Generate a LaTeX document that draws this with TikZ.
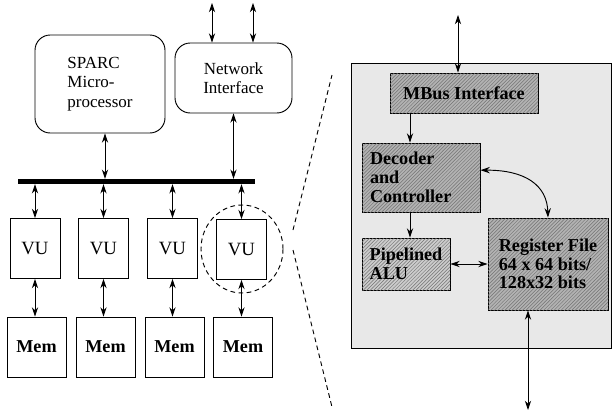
\documentclass[tikz,border=0pt]{standalone}
\usepackage{fontspec}
\setmainfont{Liberation Serif}
\usetikzlibrary{arrows.meta,shapes.geometric,patterns}

\begin{document}
\begin{tikzpicture}[x=0.03cm,y=-0.03cm,>={Stealth[length=2.8mm,width=1.9mm]},
  host/.style={draw,thick,rounded corners=13pt,font=\fontsize{14.5}{16.5}\selectfont},
  vunit/.style={draw,thick,minimum width=1.5cm,minimum height=1.8cm,font=\fontsize{16}{18}\selectfont},
  memory/.style={draw,thick,minimum width=1.77cm,minimum height=1.8cm,font=\fontsize{15.5}{17}\selectfont\bfseries},
  block/.style={draw,thick,fill=gray!60,postaction={pattern=north east lines,pattern color=gray!90!black},
    align=left,font=\fontsize{15.5}{16}\selectfont\bfseries},
  link/.style={<->,thick},
  zoomline/.style={thick,dash pattern=on 4pt off 3pt}]
  \useasboundingbox (0,0) rectangle (612,418);

  % host side: processor and network interface
  \node[host,align=left,minimum width=3.9cm,minimum height=2.94cm] (sparc) at (100,84) {SPARC\\Micro-\\processor};
  \node[host,align=center,minimum width=3.51cm,minimum height=2.1cm] (net) at (233.5,78) {Network\\Interface};
  \coordinate (netout1) at (212,3);
  \coordinate (netout2) at (253,3);
  \draw[link] (netout1) -- (netout1 |- net.north);
  \draw[link] (netout2) -- (netout2 |- net.north);

  % shared bus
  \node[fill,inner sep=0pt,minimum width=7.11cm,minimum height=0.15cm] (bus) at (136.5,181.5) {};
  \draw[link] ([xshift=0.15cm]sparc.south) -- ([xshift=0.15cm]sparc.south |- bus.north);
  \draw[link] (net.south) -- (net.south |- bus.north);

  % vector units and their memories
  \node[vunit] (vu1) at (35,248.5) {VU};
  \node[vunit] (vu2) at (103.5,248.5) {VU};
  \node[vunit] (vu3) at (172.5,248.5) {VU};
  \node[vunit] (vu4) at (241.5,249.5) {VU};
  \node[memory] (mem1) at (36.5,347) {Mem};
  \node[memory] (mem2) at (105.5,347) {Mem};
  \node[memory] (mem3) at (174.5,347) {Mem};
  \node[memory] (mem4) at (243,347) {Mem};
  \foreach \i in {1,...,4} {
    \draw[link] (vu\i.north) -- (vu\i.north |- bus.south);
    \draw[link] (vu\i.south) -- (vu\i.south |- mem\i.north);
  }

  % magnified unit
  \node[ellipse,draw,zoomline,minimum width=2.46cm,minimum height=2.64cm] (focus) at (242,249) {};
  \coordinate (zoomA1) at (293,230);
  \coordinate (zoomA2) at (332,75);
  \coordinate (zoomB1) at (293,250);
  \coordinate (zoomB2) at (332,407);
  \draw[zoomline] (zoomA1) -- (zoomA2);
  \draw[zoomline] (zoomB1) -- (zoomB2);

  % inside one VU
  \node[draw,thick,fill=gray!18,minimum width=7.8cm,minimum height=8.55cm] (chip) at (481,205.5) {};
  \node[block,minimum width=4.44cm,minimum height=1.2cm] (mbus) at (464,93) {MBus Interface};
  \node[block,minimum width=3.54cm,minimum height=2.07cm,text width=3.06cm] (dec) at (421,177.5) {Decoder\\and\\Controller};
  \node[block,fill=gray!40,minimum width=2.64cm,minimum height=1.56cm] (alu) at (406,264) {Pipelined\\ALU};
  \node[block,minimum width=3.6cm,minimum height=2.76cm] (reg) at (548,264) {Register File\\64 x 64 bits/\\128x32 bits};

  \coordinate (mbusout) at (458,15);
  \coordinate (regout) at (528,410);
  \coordinate (spine) at (410,0);
  \draw[link] (mbusout) -- (mbusout |- mbus.north);
  \draw[->,thick] (spine |- mbus.south) -- (spine |- dec.north);
  \draw[->,thick] (spine |- dec.south) -- (spine |- alu.north);
  \draw[link] (alu.east) -- (alu.east -| reg.west);
  \draw[link] ([yshift=0.22cm]dec.east) .. controls (525,170) and (547,185) .. (reg.north);
  \draw[link] (regout |- reg.south) -- (regout);
\end{tikzpicture}
\end{document}
